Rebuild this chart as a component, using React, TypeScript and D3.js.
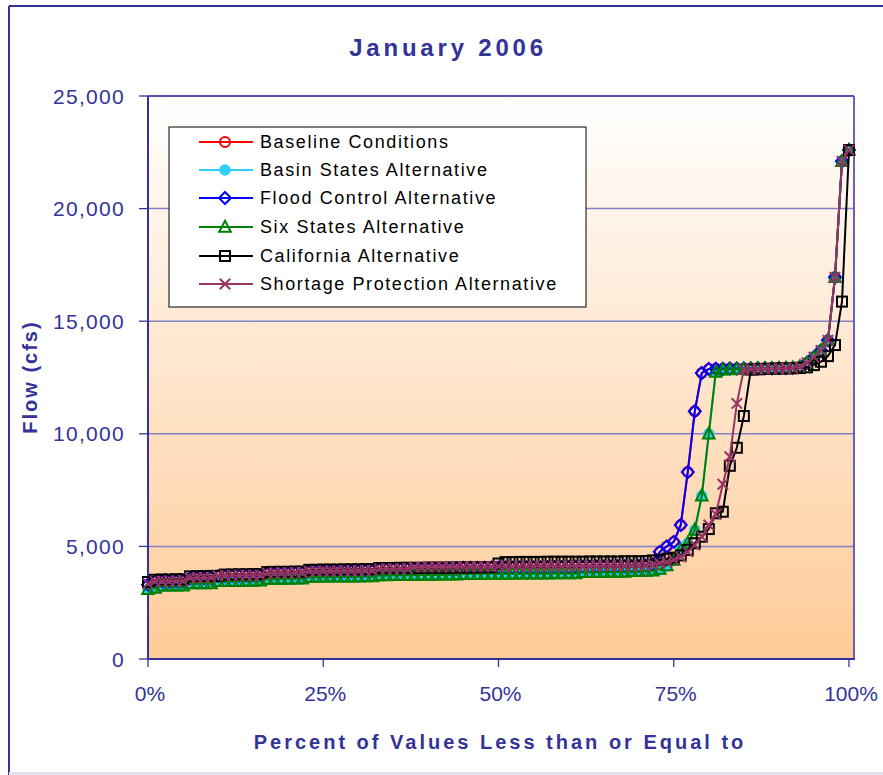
import React from 'react';
import * as d3 from 'd3';

const SERIES_NAMES = [
  'Baseline Conditions',
  'Basin States Alternative',
  'Flood Control Alternative',
  'Six States Alternative',
  'California Alternative',
  'Shortage Protection Alternative',
];

const BASELINE = [
  3300, 3440, 3450, 3450, 3460, 3470, 3580, 3590, 3590, 3600,
  3680, 3680, 3690, 3690, 3700, 3700, 3710, 3800, 3800, 3810,
  3810, 3820, 3820, 3880, 3880, 3890, 3890, 3900, 3900, 3900,
  3910, 3910, 3920, 3980, 3980, 3990, 3990, 4000, 4000, 4000,
  4010, 4010, 4010, 4020, 4020, 4050, 4050, 4050, 4050, 4060,
  4060, 4060, 4060, 4070, 4070, 4070, 4070, 4070, 4080, 4080,
  4080, 4100, 4100, 4100, 4110, 4110, 4110, 4120, 4120, 4120,
  4130, 4140, 4200, 4750, 5000, 5200, 5950, 8300, 11000, 12700,
  12880, 12890, 12890, 12900, 12900, 12900, 12900, 12910, 12910, 12910,
  12920, 12920, 12930, 12980, 13150, 13400, 13700, 14150, 16950, 22100,
  22600,
];

const BASIN_STATES = [
  3100, 3160, 3250, 3250, 3260, 3260, 3350, 3350, 3360, 3360,
  3450, 3450, 3460, 3460, 3470, 3470, 3480, 3550, 3550, 3560,
  3560, 3570, 3570, 3640, 3640, 3650, 3650, 3650, 3660, 3660,
  3660, 3670, 3670, 3710, 3710, 3720, 3720, 3720, 3720, 3730,
  3730, 3730, 3740, 3740, 3740, 3770, 3770, 3770, 3780, 3780,
  3780, 3780, 3780, 3790, 3790, 3790, 3790, 3790, 3800, 3800,
  3800, 3800, 3850, 3850, 3850, 3860, 3860, 3860, 3870, 3900,
  3900, 3910, 3920, 3980, 4120, 4380, 4840, 5150, 5730, 7250,
  10000, 12750, 12850, 12860, 12870, 12880, 12890, 12900, 12900, 12900,
  12910, 12920, 12930, 12980, 13150, 13400, 13700, 14150, 16950, 22100,
  22600,
];

const FLOOD_CONTROL = [
  3300, 3440, 3450, 3450, 3460, 3470, 3580, 3590, 3590, 3600,
  3680, 3680, 3690, 3690, 3700, 3700, 3710, 3800, 3800, 3810,
  3810, 3820, 3820, 3880, 3880, 3890, 3890, 3900, 3900, 3900,
  3910, 3910, 3920, 3980, 3980, 3990, 3990, 4000, 4000, 4000,
  4010, 4010, 4010, 4020, 4020, 4050, 4050, 4050, 4050, 4060,
  4060, 4060, 4060, 4070, 4070, 4070, 4070, 4070, 4080, 4080,
  4080, 4100, 4100, 4100, 4110, 4110, 4110, 4120, 4120, 4120,
  4130, 4140, 4200, 4760, 5000, 5200, 5950, 8300, 11000, 12700,
  12880, 12890, 12890, 12900, 12900, 12900, 12900, 12910, 12910, 12910,
  12920, 12920, 12930, 12980, 13150, 13400, 13700, 14150, 16950, 22100,
  22600,
];

const SIX_STATES = [
  3100, 3150, 3250, 3250, 3260, 3260, 3350, 3350, 3360, 3360,
  3450, 3450, 3460, 3460, 3470, 3470, 3480, 3550, 3550, 3560,
  3560, 3570, 3570, 3640, 3640, 3650, 3650, 3650, 3660, 3660,
  3660, 3670, 3670, 3710, 3710, 3720, 3720, 3720, 3720, 3730,
  3730, 3730, 3740, 3740, 3740, 3770, 3770, 3770, 3780, 3780,
  3780, 3780, 3780, 3790, 3790, 3790, 3790, 3790, 3800, 3800,
  3800, 3800, 3850, 3850, 3850, 3860, 3860, 3860, 3870, 3900,
  3900, 3910, 3920, 4000, 4150, 4400, 4840, 5150, 5730, 7250,
  10000, 12750, 12850, 12860, 12870, 12880, 12890, 12900, 12900, 12900,
  12910, 12920, 12930, 12980, 13150, 13400, 13700, 14150, 16950, 22100,
  22600,
];

const CALIFORNIA = [
  3420, 3520, 3530, 3530, 3540, 3540, 3670, 3680, 3680, 3690,
  3690, 3750, 3750, 3760, 3760, 3770, 3770, 3860, 3870, 3870,
  3870, 3880, 3880, 3960, 3960, 3970, 3970, 3970, 3980, 3980,
  3980, 3990, 3990, 4040, 4040, 4040, 4050, 4050, 4050, 4050,
  4060, 4060, 4060, 4060, 4070, 4070, 4070, 4070, 4080, 4080,
  4240, 4300, 4300, 4310, 4310, 4310, 4310, 4320, 4320, 4320,
  4320, 4320, 4320, 4330, 4330, 4330, 4330, 4330, 4340, 4340,
  4340, 4350, 4380, 4400, 4450, 4500, 4600, 4840, 5140, 5430,
  5770, 6470, 6540, 8580, 9380, 10790, 12850, 12860, 12880, 12890,
  12900, 12900, 12910, 12920, 12950, 13050, 13200, 13450, 13940, 15870,
  22600,
];

const SHORTAGE = [
  3350, 3450, 3450, 3460, 3460, 3470, 3600, 3600, 3610, 3610,
  3700, 3700, 3710, 3710, 3720, 3720, 3720, 3820, 3820, 3830,
  3830, 3840, 3840, 3900, 3900, 3910, 3910, 3910, 3920, 3920,
  3920, 3930, 3930, 4000, 4000, 4010, 4010, 4020, 4080, 4080,
  4080, 4090, 4090, 4090, 4090, 4100, 4100, 4100, 4100, 4100,
  4110, 4110, 4110, 4110, 4110, 4120, 4120, 4120, 4120, 4120,
  4130, 4130, 4130, 4130, 4140, 4140, 4140, 4140, 4150, 4150,
  4150, 4160, 4180, 4250, 4300, 4400, 4540, 4760, 5060, 5430,
  5950, 6430, 7760, 8980, 11350, 12850, 12860, 12870, 12880, 12890,
  12900, 12910, 12920, 12970, 13150, 13400, 13700, 14150, 16950, 22100,
  22600,
];

const SERIES_VALUES = [BASELINE, BASIN_STATES, FLOOD_CONTROL, SIX_STATES, CALIFORNIA, SHORTAGE];
const SERIES_COLORS = ['#FF0000', '#33CCFF', '#0000FF', '#008000', '#000000', '#993366'];
const SERIES_MARKERS = ['circleOpen', 'circleFilled', 'diamond', 'triangle', 'square', 'cross'];

const Y_TICKS = [0, 5000, 10000, 15000, 20000, 25000];
const X_TICKS = [0, 0.25, 0.5, 0.75, 1];

const TITLE = 'January 2006';
const X_TITLE = 'Percent of Values Less than or Equal to';
const Y_TITLE = 'Flow (cfs)';

const AXIS_COLOR = '#333399';
const FONT = 'Liberation Sans, Arial, sans-serif';

function Marker({ type, x, y, color }: { type: string; x: number; y: number; color: string }) {
  const sw = 2;
  switch (type) {
    case 'circleOpen':
      return <circle cx={x} cy={y} r={5} fill="none" stroke={color} strokeWidth={sw} />;
    case 'circleFilled':
      return <circle cx={x} cy={y} r={5.8} fill={color} stroke="none" />;
    case 'diamond':
      return (
        <path
          d={`M${x},${y - 6}L${x + 6},${y}L${x},${y + 6}L${x - 6},${y}Z`}
          fill="none"
          stroke={color}
          strokeWidth={sw}
        />
      );
    case 'triangle':
      return (
        <path
          d={`M${x},${y - 6.2}L${x + 5.8},${y + 4.8}L${x - 5.8},${y + 4.8}Z`}
          fill="none"
          stroke={color}
          strokeWidth={sw}
        />
      );
    case 'square':
      return <rect x={x - 5} y={y - 5} width={10} height={10} fill="none" stroke={color} strokeWidth={sw} />;
    default:
      return (
        <path
          d={`M${x - 5.2},${y - 5.2}L${x + 5.2},${y + 5.2}M${x - 5.2},${y + 5.2}L${x + 5.2},${y - 5.2}`}
          fill="none"
          stroke={color}
          strokeWidth={sw}
        />
      );
  }
}

export default function App() {
  const W = 883;
  const H = 775;
  const left = 148;
  const right = 854;
  const top = 96;
  const bottom = 659;

  const x = d3.scaleLinear().domain([0, 1]).range([left, 849]);
  const y = d3.scaleLinear().domain([0, 25000]).range([bottom, top]);
  const n = BASELINE.length;
  const pct = (i: number) => i / (n - 1);

  const line = d3
    .line<number>()
    .x((_, i) => x(pct(i)))
    .y((v) => y(v));

  const fmt = d3.format(',');

  const legendX = 169;
  const legendY = 127;
  const legendRows = [142, 170, 198, 227, 256, 284];

  return (
    <svg
      width={W}
      height={H}
      style={{ position: 'absolute', left: 0, top: 0, fontFamily: FONT }}
    >
      <defs>
        <linearGradient id="plotBg" x1="0" y1="0" x2="0" y2="1">
          <stop offset="0%" stopColor="#FFFFFF" />
          <stop offset="100%" stopColor="#FFCB98" />
        </linearGradient>
      </defs>
      <rect x={0} y={0} width={W} height={H} fill="#FFFFFF" />
      {/* outer frame */}
      <line x1={9} y1={6} x2={W + 5} y2={6} stroke={AXIS_COLOR} strokeWidth={2} />
      <line x1={9} y1={6} x2={9} y2={H} stroke={AXIS_COLOR} strokeWidth={2} />
      <line x1={9} y1={773.5} x2={W} y2={773.5} stroke="#E4E4F0" strokeWidth={3} />

      {/* title */}
      <text
        x={448}
        y={56}
        textAnchor="middle"
        fontSize={24}
        fontWeight="bold"
        fill={AXIS_COLOR}
        style={{ letterSpacing: '3.8px' }}
      >
        {TITLE}
      </text>

      {/* plot area */}
      <rect x={left} y={top} width={right - left} height={bottom - top} fill="url(#plotBg)" />
      {Y_TICKS.filter((t) => t > 0 && t < 25000).map((t) => (
        <line key={t} x1={left} x2={right} y1={y(t)} y2={y(t)} stroke="#8282C4" strokeWidth={1.5} />
      ))}
      <line x1={left} x2={right} y1={top} y2={top} stroke="#5555AA" strokeWidth={1.8} />
      <line x1={right} x2={right} y1={top} y2={bottom} stroke="#5555AA" strokeWidth={1.8} />
      <line x1={left} x2={left} y1={top} y2={bottom + 1} stroke={AXIS_COLOR} strokeWidth={2} />
      <line x1={left - 1} x2={right + 1} y1={bottom} y2={bottom} stroke={AXIS_COLOR} strokeWidth={2} />

      {/* y ticks */}
      {Y_TICKS.map((t) => (
        <g key={t}>
          <line x1={139} x2={left} y1={y(t)} y2={y(t)} stroke={AXIS_COLOR} strokeWidth={1.3} />
          <text
            x={125}
            y={y(t)}
            dy="0.36em"
            textAnchor="end"
            fontSize={21}
            fill={AXIS_COLOR}
            style={{ letterSpacing: '1.3px' }}
          >
            {fmt(t)}
          </text>
        </g>
      ))}
      {/* x ticks */}
      {X_TICKS.map((t) => (
        <g key={t}>
          <line x1={x(t)} x2={x(t)} y1={bottom} y2={bottom + 8} stroke={AXIS_COLOR} strokeWidth={1.3} />
          <text x={x(t) + 2} y={701} textAnchor="middle" fontSize={21} fill={AXIS_COLOR}>
            {`${Math.round(t * 100)}%`}
          </text>
        </g>
      ))}

      {/* axis titles */}
      <text
        x={500}
        y={749}
        textAnchor="middle"
        fontSize={20}
        fontWeight="bold"
        fill={AXIS_COLOR}
        style={{ letterSpacing: '3px' }}
      >
        {X_TITLE}
      </text>
      <text
        transform={`translate(37,377) rotate(-90)`}
        textAnchor="middle"
        fontSize={20}
        fontWeight="bold"
        fill={AXIS_COLOR}
        style={{ letterSpacing: '2px' }}
      >
        {Y_TITLE}
      </text>

      {/* series */}
      {SERIES_VALUES.map((vals, si) => (
        <g key={si}>
          <path d={line(vals) || ''} fill="none" stroke={SERIES_COLORS[si]} strokeWidth={2} />
          {vals.map((v, i) => (
            <Marker key={i} type={SERIES_MARKERS[si]} x={x(pct(i))} y={y(v)} color={SERIES_COLORS[si]} />
          ))}
        </g>
      ))}

      {/* legend */}
      <rect x={legendX} y={legendY} width={417} height={180} fill="#FFFFFF" stroke="#000000" strokeWidth={1} />
      {SERIES_NAMES.map((name, si) => (
        <g key={name}>
          <line
            x1={199}
            x2={253}
            y1={legendRows[si]}
            y2={legendRows[si]}
            stroke={SERIES_COLORS[si]}
            strokeWidth={2}
          />
          <Marker type={SERIES_MARKERS[si]} x={225} y={legendRows[si]} color={SERIES_COLORS[si]} />
          <text
            x={260}
            y={legendRows[si]}
            dy="0.36em"
            fontSize={18}
            fill="#000000"
            style={{ letterSpacing: '1.6px' }}
          >
            {name}
          </text>
        </g>
      ))}
    </svg>
  );
}
